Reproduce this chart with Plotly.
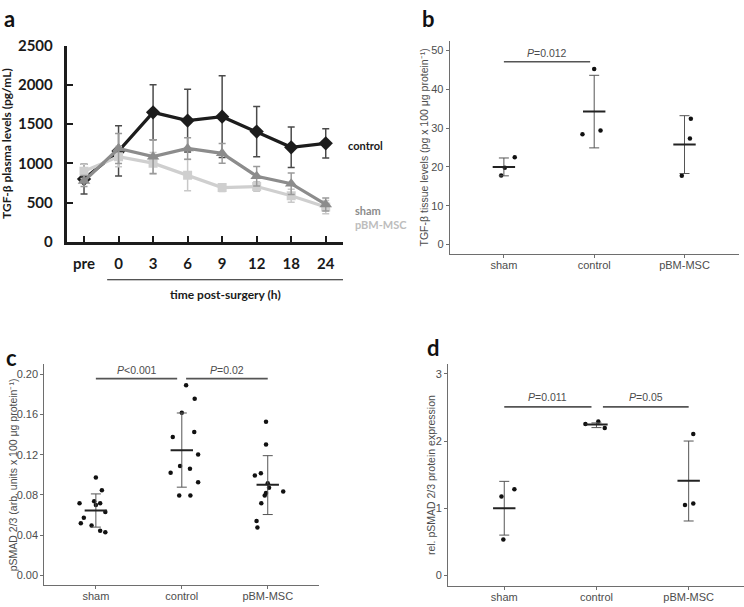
import plotly.graph_objects as go

W, H = 744, 607

# ---------------- Panel a data ----------------
time_labels = ['pre', '0', '3', '6', '9', '12', '18', '24']
control_mean = [800, 1158, 1650, 1545, 1595, 1405, 1205, 1255]
control_sd = [190, 320, 350, 400, 520, 320, 258, 185]
sham_mean = [775, 1190, 1086, 1190, 1128, 837, 742, 477]
sham_sd = [70, 190, 214, 137, 125, 124, 137, 83]
pbm_mean = [899, 1086, 1003, 850, 692, 705, 588, 444]
pbm_sd = [90, 130, 137, 200, 50, 60, 82, 84]
star_times = ['9', '12', '18', '24']
star_values = [2211, 1818, 1558, 1537]
a_yticks = [0, 500, 1000, 1500, 2000, 2500]

# ---------------- Panels b-d data ----------------
groups = ['sham', 'control', 'pBM-MSC']

b_points = [[17.8, 22.5, 19.8], [45.2, 28.4, 29.4], [17.7, 32.4, 27.3]]
b_jitter = [[-0.03, 0.12, 0.01], [0.0, -0.13, 0.07], [-0.03, 0.07, 0.06]]
b_mean = [20.0, 34.3, 25.75]
b_upper = [22.3, 43.6, 33.2]
b_lower = [17.7, 24.9, 18.3]

c_points = [
    [0.0717, 0.0572, 0.0518, 0.0495, 0.0736, 0.0717, 0.0846, 0.0974, 0.0630, 0.0444, 0.0428, 0.0700],
    [0.189, 0.1756, 0.1617, 0.1376, 0.1424, 0.1202, 0.1087, 0.1061, 0.1019, 0.0926, 0.0794, 0.0794],
    [0.1527, 0.1302, 0.0994, 0.1016, 0.0916, 0.0871, 0.0820, 0.0794, 0.0717, 0.0833, 0.0540, 0.0476],
]
c_jitter = [
    [-0.19, -0.14, -0.175, -0.05, -0.02, 0.05, 0.07, 0.0, 0.11, 0.05, 0.11, 0.0],
    [0.05, 0.15, 0.0, -0.105, 0.145, 0.19, -0.02, 0.095, -0.13, 0.19, -0.03, 0.10],
    [-0.02, -0.02, -0.15, -0.08, 0.0, 0.015, -0.02, -0.035, -0.075, 0.18, -0.13, -0.12],
]
c_mean = [0.0646, 0.1244, 0.0900]
c_upper = [0.0810, 0.1614, 0.1190]
c_lower = [0.0480, 0.0877, 0.0605]

d_points = [[1.175, 1.281, 0.534], [2.253, 2.292, 2.195], [2.104, 1.05, 1.069]]
d_jitter = [[-0.03, 0.11, -0.01], [-0.12, 0.02, 0.09], [0.05, -0.04, 0.05]]
d_mean = [1.0, 2.245, 1.41]
d_upper = [1.40, 2.27, 2.00]
d_lower = [0.60, 2.20, 0.81]

b_yticks = [0, 10, 20, 30, 40, 50]
c_yticks = [0.0, 0.04, 0.08, 0.12, 0.16, 0.20]
d_yticks = [0, 1, 2, 3]

# ---------------- Styling ----------------
A_FONT = 'Lato'
G_FONT = 'Liberation Sans, Arial, sans-serif'
C_CONTROL = '#1c1c1c'
C_SHAM = '#8c8c8c'
C_PBM = '#cfcfcf'


def px2x(p):
    return p / W


def px2y(p):
    return 1 - p / H


fig = go.Figure()

# Panel a traces (drawn: control, pBM-MSC, sham)
series = [
    ('control', control_mean, control_sd, C_CONTROL, '#4a4a4a', 'diamond', 11),
    ('pBM-MSC', pbm_mean, pbm_sd, C_PBM, '#c8c8c8', 'square', 9),
    ('sham', sham_mean, sham_sd, C_SHAM, '#9a9a9a', 'triangle-up', 11),
]
for name, m, sd, col, ecol, sym, sz in series:
    fig.add_trace(go.Scatter(
        x=time_labels, y=m, mode='lines+markers', name=name,
        line=dict(color=col, width=3.2),
        marker=dict(symbol=sym, size=sz, color=col),
        error_y=dict(type='data', array=sd, visible=True, color=ecol, thickness=1.5, width=3.5),
        xaxis='x', yaxis='y', showlegend=False, hoverinfo='skip'))

# Panels b-d
panels = [
    ('x2', 'y2', b_points, b_jitter, b_mean, b_upper, b_lower),
    ('x3', 'y3', c_points, c_jitter, c_mean, c_upper, c_lower),
    ('x4', 'y4', d_points, d_jitter, d_mean, d_upper, d_lower),
]
for xa, ya, pts, jit, mean, up, lo in panels:
    for gi in range(len(groups)):
        fig.add_trace(go.Scatter(
            x=[gi + j for j in jit[gi]], y=pts[gi], mode='markers',
            marker=dict(size=4.5, color='#111111'),
            xaxis=xa, yaxis=ya, showlegend=False, hoverinfo='skip'))
    fig.add_trace(go.Scatter(
        x=list(range(len(groups))), y=mean, mode='markers',
        marker=dict(symbol='line-ew', size=16, line=dict(width=2, color='#222222')),
        error_y=dict(type='data', symmetric=False,
                     array=[u - m for u, m in zip(up, mean)],
                     arrayminus=[m - l for m, l in zip(mean, lo)],
                     color='#555555', thickness=1, width=5),
        xaxis=xa, yaxis=ya, showlegend=False, hoverinfo='skip'))

# ---------------- Axes ----------------
layout = dict(
    width=W, height=H, margin=dict(l=0, r=0, t=0, b=0),
    paper_bgcolor='white', plot_bgcolor='white',
    xaxis=dict(domain=[px2x(66.75), px2x(343)], type='category', categoryarray=time_labels,
               range=[-0.5, 7.5], showgrid=False, zeroline=False, showline=True,
               linecolor=C_CONTROL, linewidth=3, ticks='inside', ticklen=6, tickwidth=2,
               tickcolor=C_CONTROL, ticklabelstandoff=6,
               tickfont=dict(family=A_FONT, size=15, color='#1a1a1a', weight='bold'),
               anchor='y', fixedrange=True),
    yaxis=dict(domain=[px2y(239), px2y(36.7)], range=[0, 2500], tickvals=a_yticks,
               showgrid=False, zeroline=False, showline=True, linecolor=C_CONTROL,
               linewidth=3, ticks='inside', ticklen=6, tickwidth=2, tickcolor=C_CONTROL,
               ticklabelstandoff=8,
               tickfont=dict(family=A_FONT, size=15, color='#1a1a1a', weight='bold'),
               anchor='x', fixedrange=True),
)

g_axes = [
    ('2', [449.7, 738.7], [251.7, 32.3], [-0.6, 2.6], [-2.5, 52.35], b_yticks, None),
    ('3', [44.3, 319.3], [592.7, 365], [-0.6, 2.6], [-0.00964, 0.2099], c_yticks,
     ['0.00', '0.04', '0.08', '0.12', '0.16', '0.20']),
    ('4', [448, 744], [593.3, 365], [-0.61, 2.6], [-0.153, 3.144], d_yticks, None),
]
for k, xd, yd, xr, yr, yt, ytt in g_axes:
    layout['xaxis' + k] = dict(
        domain=[px2x(xd[0]), px2x(xd[1])], range=xr, tickvals=[0, 1, 2], ticktext=groups,
        showgrid=False, zeroline=False, showline=True, linecolor='#6e6e6e', linewidth=1,
        ticks='outside', ticklen=3, tickcolor='#6e6e6e', ticklabelstandoff=-2,
        tickfont=dict(family=G_FONT, size=11, color='#4d4d4d'),
        anchor='y' + k, fixedrange=True)
    yax = dict(
        domain=[px2y(yd[0]), px2y(yd[1])], range=yr, tickvals=yt,
        showgrid=False, zeroline=False, showline=True, linecolor='#6e6e6e', linewidth=1,
        ticks='outside', ticklen=3, tickcolor='#6e6e6e',
        tickfont=dict(family=G_FONT, size=11, color='#4d4d4d'),
        anchor='x' + k, fixedrange=True)
    if ytt:
        yax['ticktext'] = ytt
    layout['yaxis' + k] = yax

fig.update_layout(**layout)

# ---------------- Annotations & shapes ----------------
ann = []
shapes = []

# panel letters
for txt, x, y in [('a', 9, 9), ('b', 428, 9), ('c', 11, 358), ('d', 433, 348)]:
    ann.append(dict(text=txt, x=px2x(x), y=px2y(y), xref='paper', yref='paper',
                    xanchor='center', yanchor='middle', showarrow=False,
                    font=dict(family=A_FONT, size=22, color='#111', weight='bold')))

# panel a text
ann.append(dict(text='TGF-β plasma levels (pg/mL)', x=px2x(7), y=px2y(138), xref='paper',
                yref='paper', textangle=-90, showarrow=False, xanchor='center', yanchor='middle',
                font=dict(family=A_FONT, size=12, color='#1a1a1a', weight='bold')))
ann.append(dict(text='time post-surgery (h)', x=px2x(225), y=px2y(293), xref='paper',
                yref='paper', showarrow=False, xanchor='center', yanchor='middle',
                font=dict(family=A_FONT, size=12, color='#1a1a1a', weight='bold')))
shapes.append(dict(type='line', xref='x', yref='paper', x0=0.67, x1=7.5,
                   y0=px2y(278), y1=px2y(278), line=dict(color='#1a1a1a', width=1.2)))
for t, v, dx in zip(star_times, star_values, [0, 3, 5, 6]):
    ann.append(dict(text='*', x=t, y=v, xref='x', yref='y', showarrow=False, xshift=dx,
                    font=dict(family=A_FONT, size=12, color='#1a1a1a')))
for txt, y, col in [('control', 140, '#1a1a1a'), ('sham', 207, '#8c8c8c'),
                    ('pBM-MSC', 221, '#bdbdbd')]:
    ann.append(dict(text=txt, x=px2x(346 if txt == 'control' else 353), y=px2y(y),
                    xref='paper', yref='paper', showarrow=False, xanchor='left',
                    yanchor='middle',
                    font=dict(family=A_FONT, size=11, color=col, weight='bold')))

# panels b-d y titles
for txt, x, yc in [
        ('TGF-β tissue levels (pg x 100 μg protein⁻¹)', 423.7, 142),
        ('pSMAD 2/3 (arb. units x 100 μg protein⁻¹)', 12.5, 479),
        ('rel. pSMAD 2/3 protein expression', 430.3, 479)]:
    ann.append(dict(text=txt, x=px2x(x), y=px2y(yc), xref='paper', yref='paper',
                    textangle=-90, showarrow=False, xanchor='center', yanchor='middle',
                    font=dict(family=G_FONT, size=10.5, color='#4d4d4d')))

# significance bars
sig = [
    ('x2', 'y2', 0.0, 0.955, 47.1, 49.3, '<i>P</i>=0.012'),
    ('x3', 'y3', 0.0, 0.946, 0.1955, 0.2040, '<i>P</i><0.001'),
    ('x3', 'y3', 1.05, 2.0, 0.1955, 0.2040, '<i>P</i>=0.02'),
    ('x4', 'y4', 0.0, 0.946, 2.508, 2.653, '<i>P</i>=0.011'),
    ('x4', 'y4', 1.07, 2.0, 2.508, 2.653, '<i>P</i>=0.05'),
]
for xa, ya, x0, x1, yb, yt_, txt in sig:
    shapes.append(dict(type='line', xref=xa, yref=ya, x0=x0, x1=x1, y0=yb, y1=yb,
                       line=dict(color='#555555', width=1.6)))
    ann.append(dict(text=txt, x=(x0 + x1) / 2, y=yt_, xref=xa, yref=ya, showarrow=False,
                    xanchor='center', yanchor='middle',
                    font=dict(family=G_FONT, size=10.5, color='#4d4d4d')))

fig.update_layout(annotations=ann, shapes=shapes)

fig.write_html('out.html', config={'displayModeBar': False},
               post_script="document.body.style.margin='0';document.body.style.padding='0';")
